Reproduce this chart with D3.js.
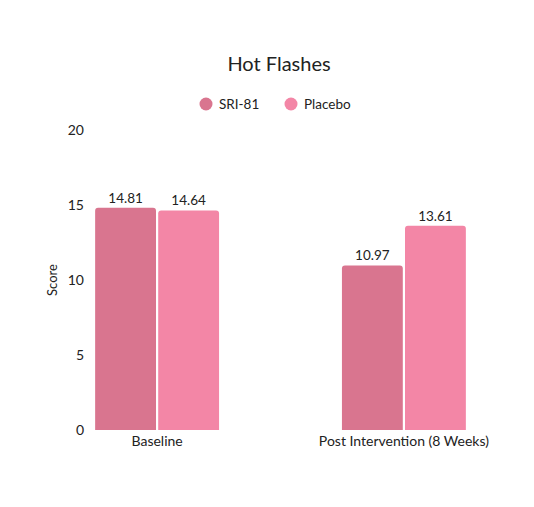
<!DOCTYPE html>
<html>
<head>
<meta charset="utf-8">
<script src="https://cdn.jsdelivr.net/npm/d3@7"></script>
<style>
  body { margin: 0; background: #fff; }
  text { font-family: Lato, "Open Sans", sans-serif; fill: #222; }
  .axis path, .axis line { display: none; }
</style>
</head>
<body>
<svg width="534" height="507"></svg>
<script>
var groups = ["Baseline", "Post Intervention (8 Weeks)"];
var seriesNames = ["SRI-81", "Placebo"];
var sriValues = [14.81, 10.97];
var placeboValues = [14.64, 13.61];
var yTicks = [0, 5, 10, 15, 20];
var colors = ["#d9758f", "#f386a6"];

var data = groups.map(function(g, i) {
  return {group: g, values: [
    {key: seriesNames[0], value: sriValues[i]},
    {key: seriesNames[1], value: placeboValues[i]}
  ]};
});

var svg = d3.select("svg");

var x0 = d3.scaleBand()
    .domain(groups)
    .range([88, 473])
    .paddingInner(0.48)
    .paddingOuter(0.02);

var x1 = d3.scaleBand()
    .domain(seriesNames)
    .range([0, x0.bandwidth()])
    .padding(0.035);

var y = d3.scaleLinear()
    .domain([0, 20])
    .range([430, 130]);

var color = d3.scaleOrdinal().domain(seriesNames).range(colors);

// title
svg.append("text")
    .attr("x", 279)
    .attr("y", 71)
    .attr("text-anchor", "middle")
    .style("font-size", "20px")
    .text("Hot Flashes");

// legend
var legend = svg.append("g");
var legendX = [206, 291];
seriesNames.forEach(function(s, i) {
  legend.append("circle")
      .attr("cx", legendX[i])
      .attr("cy", 104)
      .attr("r", 6.5)
      .attr("fill", color(s));
  legend.append("text")
      .attr("x", legendX[i] + 13)
      .attr("y", 108.5)
      .style("font-size", "13.5px")
      .text(s);
});

// y axis
svg.append("g")
    .attr("class", "axis")
    .attr("transform", "translate(84,0)")
    .call(d3.axisLeft(y).tickValues(yTicks).tickSize(0).tickPadding(0))
    .selectAll("text")
    .style("font-size", "14px")
    .attr("fill", "#222");

svg.append("text")
    .attr("transform", "translate(57,280) rotate(-90)")
    .attr("text-anchor", "middle")
    .style("font-size", "13px")
    .text("Score");

// x axis
svg.append("g")
    .attr("class", "axis")
    .attr("transform", "translate(0,436)")
    .call(d3.axisBottom(x0).tickSize(0).tickPadding(0))
    .selectAll("text")
    .style("font-size", "14px")
    .attr("dy", "0.71em")
    .attr("fill", "#222");

// bars
var g = svg.selectAll(".group")
    .data(data)
  .enter().append("g")
    .attr("class", "group")
    .attr("transform", function(d) { return "translate(" + x0(d.group) + ",0)"; });

g.selectAll("path")
    .data(function(d) { return d.values; })
  .enter().append("path")
    .attr("fill", function(d) { return color(d.key); })
    .attr("d", function(d) {
      var r = 3, bx = x1(d.key), w = x1.bandwidth(), top = y(d.value), bottom = y(0);
      return "M" + bx + "," + bottom +
        "V" + (top + r) +
        "Q" + bx + "," + top + " " + (bx + r) + "," + top +
        "H" + (bx + w - r) +
        "Q" + (bx + w) + "," + top + " " + (bx + w) + "," + (top + r) +
        "V" + bottom + "Z";
    });

g.selectAll(".label")
    .data(function(d) { return d.values; })
  .enter().append("text")
    .attr("class", "label")
    .attr("x", function(d) { return x1(d.key) + x1.bandwidth() / 2; })
    .attr("y", function(d) { return y(d.value) - 5; })
    .attr("text-anchor", "middle")
    .style("font-size", "13.5px")
    .text(function(d) { return d3.format(".2f")(d.value); });
</script>
</body>
</html>
